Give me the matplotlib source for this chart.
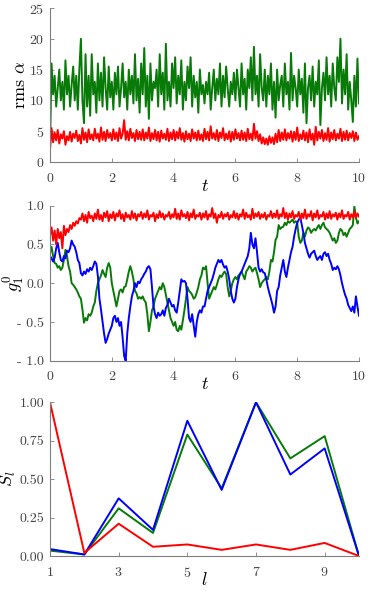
import matplotlib
matplotlib.use("Agg")
import matplotlib.pyplot as plt
import numpy as np

# ---------------- data ----------------
t_step = 0.05
rms_green = [
    2, 16, 11, 14, 9, 12, 15, 10, 13, 8.5, 16.5, 11, 14, 9, 12.5, 15.5, 10, 14, 8.5, 15,
    20, 10, 6.3, 17.5, 9, 14, 7.5, 17.5, 11, 13, 8, 16, 10, 14.5, 9, 17, 12, 8.5, 15.5, 10.5,
    13, 8.5, 14.5, 11, 15.5, 9, 12, 16, 10.5, 13, 8.5, 15, 11, 14, 9.5, 17.5, 10, 13.5, 8, 16,
    11, 18.5, 9, 14, 7, 16, 10, 13, 12, 15, 9, 17.5, 11, 14.5, 8.5, 19.2, 10, 13, 9, 16,
    12, 17, 9.5, 14, 11, 16.5, 8.5, 13, 10, 15.5, 12, 17, 9, 14, 10.5, 13, 8, 15, 11, 12.5,
    9.5, 13, 11, 14.5, 8.5, 12, 15, 10, 13.5, 11, 16, 9, 14, 10.5, 15.5, 12, 9, 13, 11, 14.5,
    10, 15, 12, 9, 16, 11, 13.5, 8.5, 15, 12, 17, 10, 18.7, 11, 14, 9, 17.5, 12, 10, 15,
    9, 14, 11, 16, 8.5, 13, 7.2, 15, 10, 12.5, 14, 9, 16, 11, 13, 8.5, 17.7, 10, 14, 12,
    9, 15, 11, 13.5, 8, 16, 6.3, 12, 14, 10, 15.5, 9, 13, 11, 16.5, 6, 12, 14.5, 10, 17,
    11, 14, 9, 16, 12, 10, 17, 13, 20, 9.5, 15, 11, 17.5, 8.5, 13, 10, 6.5, 14, 9, 16.8, 9.5,
]
rms_red = [
    2, 5.5, 3.2, 4.8, 3.5, 5.2, 3.0, 4.5, 3.8, 5.0, 2.8, 4.2, 3.5, 4.9, 3.3, 4.6, 3.9, 5.1, 3.4, 4.4,
    3.0, 5.5, 3.6, 4.8, 3.2, 5.3, 3.7, 4.5, 3.5, 5.4, 3.8, 4.6, 3.3, 5.6, 3.6, 4.9, 3.4, 5.2, 3.9, 4.7,
    3.5, 5.3, 3.7, 4.8, 3.4, 5.5, 3.8, 4.6, 6.8, 3.6, 5.0, 3.5, 5.4, 3.9, 4.7, 3.4, 5.2, 3.7, 4.9, 3.6,
    5.3, 3.5, 4.8, 3.8, 5.6, 3.4, 4.7, 3.7, 5.2, 3.5, 4.9, 3.3, 5.1, 3.8, 4.6, 3.6, 5.4, 3.4, 4.8, 3.7,
    5.2, 3.5, 4.9, 3.8, 5.5, 3.6, 4.7, 3.3, 5.0, 3.7, 4.6, 3.4, 5.3, 3.8, 4.8, 3.5, 5.1, 3.6, 4.5, 3.4,
    5.4, 3.7, 4.9, 3.5, 5.8, 3.8, 4.7, 3.6, 5.2, 3.4, 4.8, 3.9, 5.5, 3.5, 4.6, 3.7, 5.0, 3.3, 4.9, 3.6,
    5.3, 3.8, 4.7, 3.5, 5.1, 3.6, 4.8, 3.4, 5.4, 3.7, 4.6, 3.5, 6.2, 3.8, 5.0, 3.4, 4.5, 3.0, 4.0, 2.9,
    3.8, 2.8, 4.2, 3.1, 4.0, 2.9, 4.6, 3.2, 5.2, 3.4, 4.8, 3.6, 5.3, 3.5, 4.7, 3.8, 5.0, 3.3, 4.9, 3.6,
    5.6, 3.4, 4.5, 3.7, 5.1, 3.5, 4.8, 3.2, 5.3, 3.6, 4.6, 2.8, 5.7, 3.5, 4.9, 3.8, 5.2, 3.4, 4.7, 3.6,
    5.5, 3.3, 4.8, 3.7, 5.2, 3.5, 4.6, 3.8, 5.4, 3.4, 4.9, 3.6, 5.1, 3.5, 4.7, 3.9, 5.0, 3.4, 4.8, 3.6, 4.2,
]
g_red = [
    0.62, 0.72, 0.55, 0.68, 0.5, 0.7, 0.58, 0.66, 0.45, 0.74, 0.62, 0.7, 0.66, 0.75, 0.7, 0.78, 0.74, 0.8, 0.77, 0.84,
    0.82, 0.9, 0.8, 0.88, 0.78, 0.92, 0.84, 0.87, 0.8, 0.9, 0.83, 0.95, 0.82, 0.88, 0.8, 0.91, 0.85, 0.93, 0.8, 0.89,
    0.84, 0.92, 0.81, 0.9, 0.86, 0.94, 0.83, 0.89, 0.8, 0.91, 0.85, 0.88, 0.82, 0.93, 0.84, 0.9, 0.81, 0.89, 0.86, 0.92,
    0.83, 0.9, 0.85, 0.94, 0.82, 0.88, 0.86, 0.91, 0.8, 0.89, 0.84, 0.93, 0.85, 0.9, 0.82, 0.88, 0.86, 0.92, 0.83, 0.89,
    0.85, 0.96, 0.83, 0.9, 0.82, 0.94, 0.86, 0.89, 0.84, 0.92, 0.81, 0.9, 0.85, 0.95, 0.83, 0.88, 0.86, 0.91, 0.82, 0.9,
    0.85, 0.93, 0.82, 0.89, 0.86, 0.97, 0.84, 0.9, 0.78, 0.88, 0.85, 0.92, 0.83, 0.89, 0.86, 0.91, 0.82, 0.88, 0.85, 0.93,
    0.84, 0.9, 0.82, 0.89, 0.86, 0.95, 0.83, 0.91, 0.85, 0.88, 0.82, 0.96, 0.84, 0.9, 0.86, 0.92, 0.83, 0.89, 0.85, 0.91,
    0.82, 0.88, 0.86, 0.93, 0.84, 0.9, 0.85, 0.94, 0.83, 0.89, 0.86, 0.97, 0.84, 0.91, 0.82, 0.9, 0.85, 0.93, 0.83, 0.88,
    0.86, 0.92, 0.82, 0.9, 0.84, 0.95, 0.83, 0.89, 0.86, 0.93, 0.81, 0.9, 0.85, 0.94, 0.83, 0.88, 0.86, 0.92, 0.82, 0.9,
    0.84, 0.93, 0.83, 0.89, 0.86, 0.91, 0.82, 0.9, 0.85, 0.94, 0.83, 0.88, 0.86, 0.92, 0.82, 0.89, 0.85, 0.93, 0.84, 0.9, 0.86,
]
g_blue = [
    0.35, 0.32, 0.28, 0.33, 0.45, 0.52, 0.4, 0.3, 0.28, 0.35, 0.32, 0.42, 0.4, 0.45, 0.55, 0.5, 0.47, 0.4, 0.3, 0.26,
    0.13, 0.1, 0.15, 0.12, 0.18, 0.15, 0.2, 0.17, 0.22, 0.28, 0.25, 0.09, -0.2, -0.34, -0.5, -0.65, -0.77, -0.72, -0.65, -0.6,
    -0.55, -0.45, -0.42, -0.5, -0.45, -0.55, -0.5, -0.7, -0.94, -1.0, -0.65, -0.45, -0.3, -0.17, -0.1, 0.0, -0.05, 0.02, 0.0, 0.05,
    0.08, 0.12, 0.15, 0.2, 0.22, 0.18, -0.05, -0.3, -0.4, -0.45, -0.38, -0.42, -0.4, -0.35, -0.42, -0.32, -0.28, -0.2, -0.25, -0.3,
    -0.28, -0.35, -0.38, -0.25, -0.1, 0.05, 0.02, 0.03, 0.0, -0.2, -0.45, -0.5, -0.4, -0.55, -0.69, -0.5, -0.4, -0.35, -0.38, -0.3,
    -0.3, -0.2, -0.1, -0.05, 0.0, 0.05, 0.12, 0.2, 0.25, 0.3, 0.27, 0.3, 0.24, 0.2, 0.22, 0.15, 0.05, -0.1, -0.2, -0.25,
    -0.2, -0.05, 0.05, 0.12, 0.15, 0.2, 0.25, 0.3, 0.35, 0.45, 0.65, 0.5, 0.45, 0.58, 0.4, 0.2, 0.15, 0.18, 0.14, 0.13,
    0.05, -0.05, -0.13, -0.2, -0.28, -0.38, -0.3, -0.1, -0.05, 0.1, 0.2, 0.3, 0.15, 0.08, 0.2, 0.3, 0.4, 0.47, 0.6, 0.7,
    0.78, 0.82, 0.85, 0.75, 0.65, 0.52, 0.45, 0.38, 0.33, 0.38, 0.4, 0.42, 0.35, 0.3, 0.33, 0.35, 0.3, 0.38, 0.4, 0.35,
    0.38, 0.3, 0.25, 0.17, 0.2, 0.18, 0.22, 0.18, 0.1, 0.0, -0.08, -0.15, -0.2, -0.28, -0.32, -0.36, -0.3, -0.38, -0.17, -0.3, -0.42,
]
g_green = [
    0.39, 0.47, 0.35, 0.26, 0.25, 0.2, 0.22, 0.17, 0.2, 0.3, 0.43, 0.35, 0.22, 0.15, 0.0, -0.02, -0.05, -0.08, -0.12, -0.17,
    -0.2, -0.34, -0.51, -0.45, -0.48, -0.4, -0.42, -0.38, -0.3, -0.25, -0.1, 0.0, 0.05, 0.1, 0.17, 0.12, 0.08, 0.2, 0.26, 0.2,
    0.0, -0.1, -0.2, -0.3, -0.2, -0.1, -0.08, -0.12, -0.05, -0.04, 0.05, 0.15, 0.22, 0.15, 0.05, -0.1, -0.13, -0.2, -0.18, -0.2,
    -0.17, -0.22, -0.25, -0.4, -0.62, -0.5, -0.35, -0.3, -0.2, -0.15, -0.1, -0.05, -0.08, 0.0, -0.05, -0.15, -0.25, -0.35, -0.45, -0.5,
    -0.55, -0.5, -0.6, -0.62, -0.55, -0.6, -0.48, -0.35, -0.2, -0.05, -0.1, -0.12, -0.15, -0.2, -0.18, -0.12, -0.05, 0.05, 0.1, 0.2,
    0.18, 0.22, 0.0, -0.2, -0.15, -0.1, -0.05, -0.08, -0.02, 0.05, 0.1, 0.08, 0.12, 0.15, 0.12, -0.05, -0.17, -0.1, 0.0, 0.05,
    0.08, 0.05, 0.1, 0.12, 0.15, 0.1, 0.05, 0.15, 0.18, 0.22, 0.2, 0.15, 0.18, 0.2, 0.13, 0.05, -0.05, 0.0, 0.03, 0.05,
    0.08, 0.05, 0.15, 0.3, 0.28, 0.4, 0.56, 0.6, 0.75, 0.7, 0.72, 0.73, 0.78, 0.75, 0.8, 0.78, 0.8, 0.82, 0.78, 0.8,
    0.78, 0.6, 0.52, 0.55, 0.65, 0.6, 0.68, 0.72, 0.7, 0.65, 0.68, 0.7, 0.68, 0.72, 0.75, 0.7, 0.75, 0.78, 0.72, 0.7,
    0.68, 0.65, 0.6, 0.55, 0.58, 0.52, 0.55, 0.65, 0.7, 0.68, 0.62, 0.65, 0.6, 0.65, 0.7, 0.72, 0.75, 0.99, 0.85, 0.77, 0.8,
]

l_vals = [1, 2, 3, 4, 5, 6, 7, 8, 9, 10]
S_red = [1.0, 0.02, 0.21, 0.06, 0.075, 0.04, 0.075, 0.04, 0.085, 0.0]
S_green = [0.035, 0.01, 0.31, 0.15, 0.79, 0.44, 1.0, 0.635, 0.78, 0.0]
S_blue = [0.045, 0.01, 0.375, 0.17, 0.88, 0.43, 1.0, 0.53, 0.70, 0.0]

t_ticks = [0, 2, 4, 6, 8, 10]
rms_ticks = [0, 5, 10, 15, 20, 25]
g_ticks = [-1.0, -0.5, 0.0, 0.5, 1.0]
g_ticklabels = ['- 1.0', '- 0.5', '0.0', '0.5', '1.0']
l_ticks = [1, 3, 5, 7, 9]
S_ticks = [0.0, 0.25, 0.5, 0.75, 1.0]
S_ticklabels = ['0.00', '0.25', '0.50', '0.75', '1.00']

# ---------------- style ----------------
plt.rcParams['font.family'] = ['cmr10', 'DejaVu Serif']
plt.rcParams['mathtext.fontset'] = 'cm'
plt.rcParams['axes.unicode_minus'] = False
plt.rcParams['axes.formatter.use_mathtext'] = True

GREEN = '#077a07'
RED = '#ff0000'
BLUE = '#0000ff'
SPINE = '#7f7f7f'
TICKC = '#444444'
LW = 1.4

fig = plt.figure(figsize=(3.7, 5.92), dpi=100)
L, W = 50 / 370, 309 / 370
ax1 = fig.add_axes([L, 1 - 162 / 592, W, 154 / 592])
ax2 = fig.add_axes([L, 1 - 360.7 / 592, W, 155 / 592])
ax3 = fig.add_axes([L, 1 - 556 / 592, W, 153.7 / 592])


def style(ax):
    for s in ['top', 'right']:
        ax.spines[s].set_visible(False)
    for s in ['left', 'bottom']:
        ax.spines[s].set_color(SPINE)
        ax.spines[s].set_linewidth(0.8)
    ax.tick_params(direction='in', length=3, width=0.6, color=SPINE,
                   labelsize=10, labelcolor=TICKC)
    ax.tick_params(axis='y', pad=4)
    ax.tick_params(axis='x', pad=7)


t1 = np.arange(len(rms_green)) * t_step
ax1.plot(t1, rms_green, color=GREEN, lw=LW)
ax1.plot(t1, rms_red, color=RED, lw=LW)
ax1.set_xlim(0, 10)
ax1.set_ylim(0, 25)
ax1.set_xticks(t_ticks)
ax1.set_yticks(rms_ticks)
ax1.set_xlabel(r'$t$', fontsize=13, labelpad=-5)
ax1.set_ylabel(r'rms $\alpha$', fontsize=13)
ax1.yaxis.set_label_coords(-0.072, 0.5)
style(ax1)

t2 = np.arange(len(g_red)) * t_step
ax2.plot(t2, g_green, color=GREEN, lw=LW)
ax2.plot(t2, g_blue, color=BLUE, lw=LW)
ax2.plot(t2, g_red, color=RED, lw=LW)
ax2.set_xlim(0, 10)
ax2.set_ylim(-1.0, 1.0)
ax2.set_xticks(t_ticks)
ax2.set_yticks(g_ticks)
ax2.set_yticklabels(g_ticklabels)
ax2.set_xlabel(r'$t$', fontsize=13, labelpad=-5)
ax2.set_ylabel(r'$g_1^0$', fontsize=13)
ax2.yaxis.set_label_coords(-0.076, 0.5)
style(ax2)

ax3.plot(l_vals, S_green, color=GREEN, lw=LW)
ax3.plot(l_vals, S_blue, color=BLUE, lw=LW)
ax3.plot(l_vals, S_red, color=RED, lw=LW)
ax3.set_xlim(1, 10)
ax3.set_ylim(0, 1.0)
ax3.set_xticks(l_ticks)
ax3.set_yticks(S_ticks)
ax3.set_yticklabels(S_ticklabels)
ax3.set_xlabel(r'$l$', fontsize=13, labelpad=-6)
ax3.set_ylabel(r'$S_l$', fontsize=13)
ax3.yaxis.set_label_coords(-0.105, 0.5)
style(ax3)

fig.savefig('out.png', dpi=100)
